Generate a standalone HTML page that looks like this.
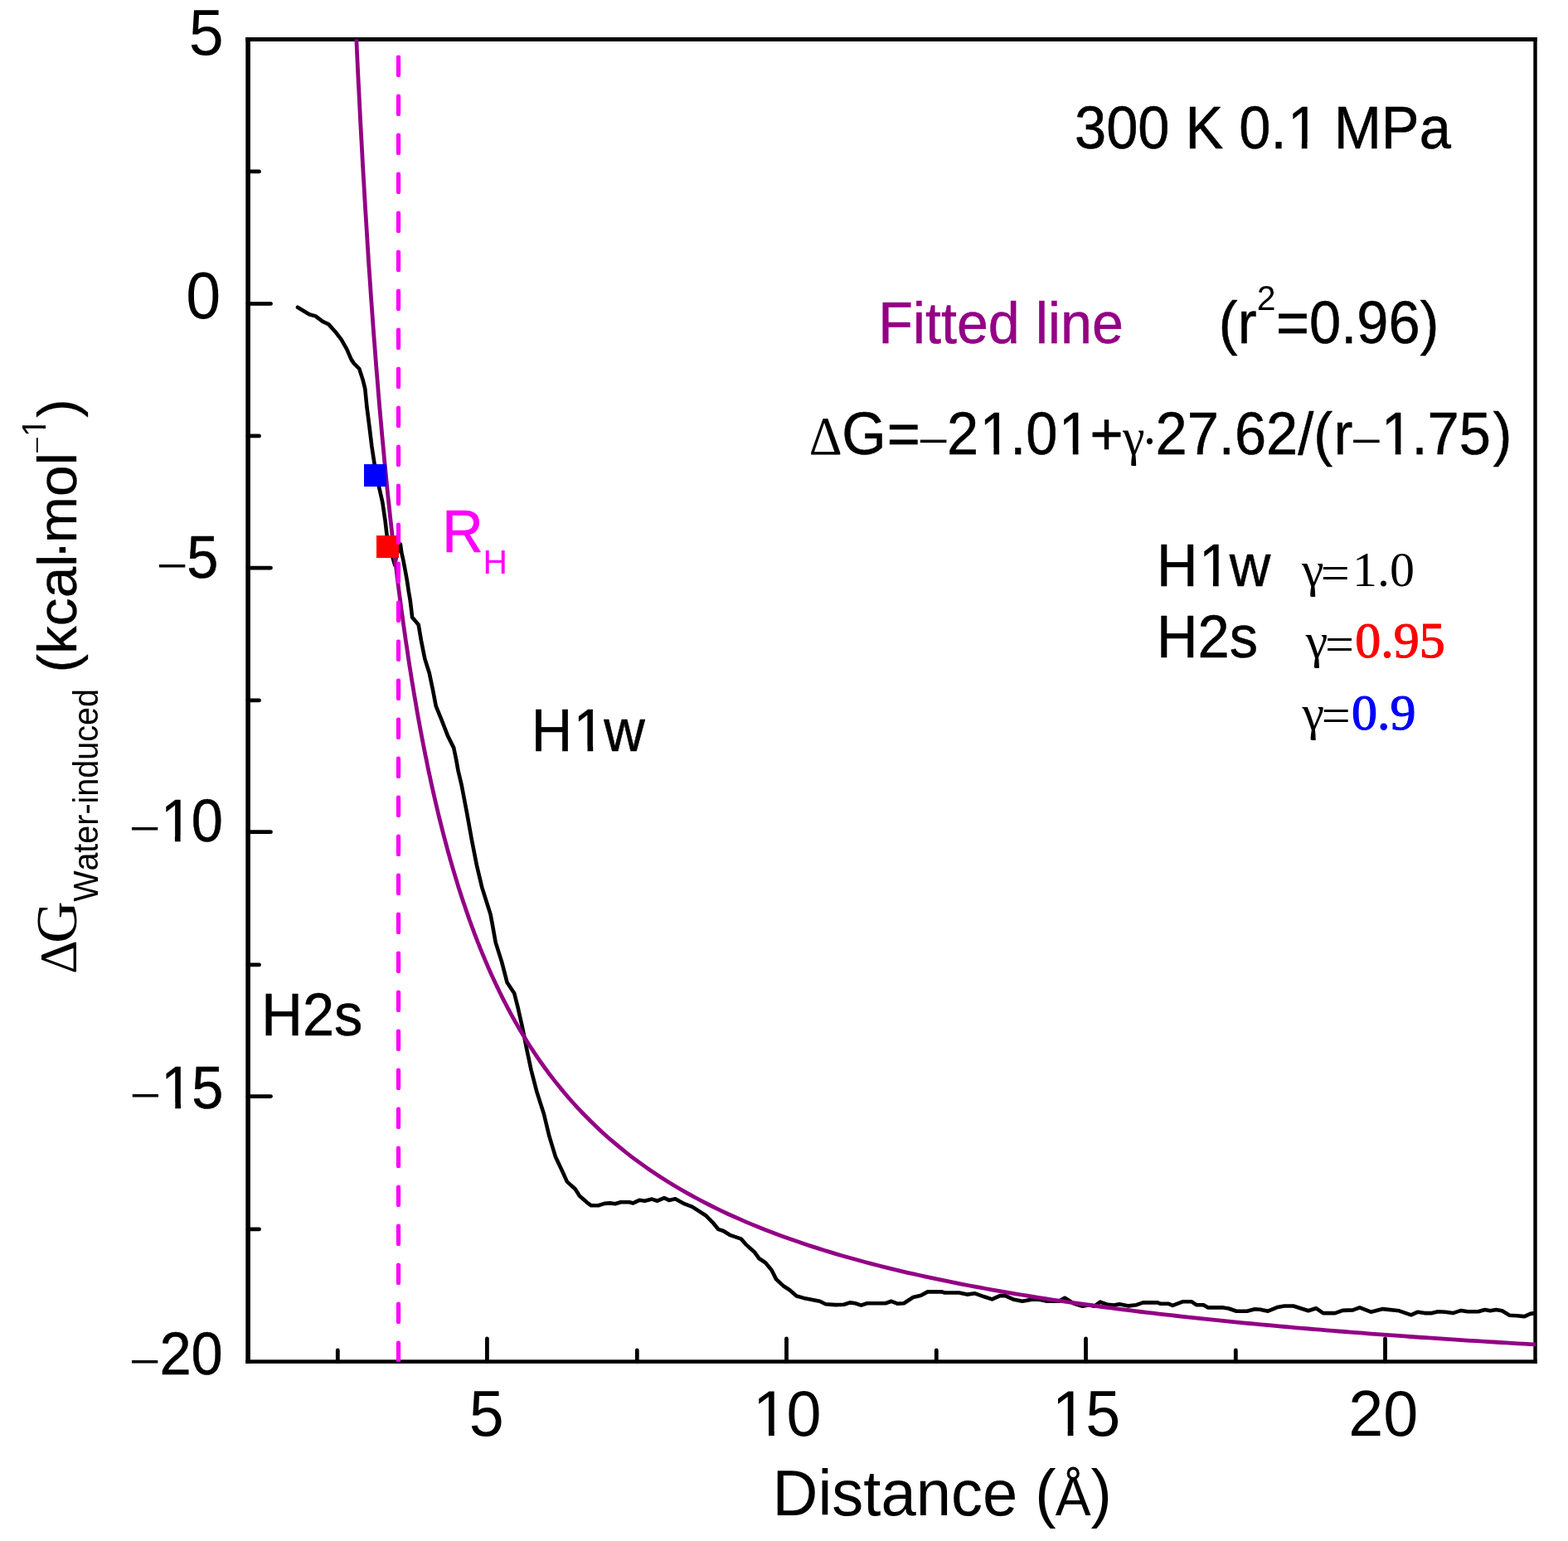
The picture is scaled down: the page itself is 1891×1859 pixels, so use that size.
<!DOCTYPE html>
<html lang="en"><head><meta charset="utf-8">
<title>Water-induced free energy vs distance</title>
<style>
html,body{margin:0;padding:0;background:#fff;}
body{width:1891px;height:1859px;overflow:hidden;}
svg{display:block;}
text{font-family:"Liberation Sans",Arial,Helvetica,sans-serif;font-kerning:none;white-space:pre;}
.se{font-family:"Liberation Serif","Times New Roman",Times,serif;}
.sb{font-family:"Liberation Serif","Times New Roman",Times,serif;font-weight:bold;}
</style></head><body>
<svg width="1891" height="1859" viewBox="0 0 1891 1859">
<rect width="1891" height="1859" fill="#fff"/>
<defs><clipPath id="pa"><rect x="299.0" y="47.4" width="1552.9" height="1595.4"/></clipPath><clipPath id="k1"><path clip-rule="evenodd" d="M-4000,-4000H4000V4000H-4000ZM198.15,-6.52H210.92V1.50H198.15ZM217.58,-6.52H229.82V1.50H217.58Z"/></clipPath><clipPath id="k2"><path clip-rule="evenodd" d="M-4000,-4000H4000V4000H-4000ZM198.55,-6.52H211.32V1.50H198.55ZM217.98,-6.52H230.22V1.50H217.98Z"/></clipPath><clipPath id="k3"><path clip-rule="evenodd" d="M-4000,-4000H4000V4000H-4000ZM913.05,-6.79H927.04V1.00H913.05ZM933.80,-6.79H947.20V1.00H933.80Z"/></clipPath><clipPath id="k4"><path clip-rule="evenodd" d="M-4000,-4000H4000V4000H-4000ZM1273.68,-6.79H1287.66V1.00H1273.68ZM1294.43,-6.79H1307.83V1.00H1294.43Z"/></clipPath><clipPath id="k5"><path clip-rule="evenodd" d="M-4000,-4000H4000V4000H-4000ZM1557.08,-6.52H1569.85V1.50H1557.08ZM1576.51,-6.52H1588.75V1.50H1576.51Z"/></clipPath><clipPath id="k6"><path clip-rule="evenodd" d="M-4000,-4000H4000V4000H-4000ZM1185.65,-6.52H1198.43V1.50H1185.65ZM1205.08,-6.52H1217.32V1.50H1205.08ZM1281.01,-6.52H1293.79V1.50H1281.01ZM1300.45,-6.52H1312.69V1.50H1300.45ZM1669.97,-6.52H1682.75V1.50H1669.97ZM1689.40,-6.52H1701.65V1.50H1689.40Z"/></clipPath><clipPath id="k7"><path clip-rule="evenodd" d="M-4000,-4000H4000V4000H-4000ZM1450.16,-6.53H1462.94V1.50H1450.16ZM1469.60,-6.53H1481.84V1.50H1469.60Z"/></clipPath><clipPath id="k8"><path clip-rule="evenodd" d="M-4000,-4000H4000V4000H-4000ZM695.76,-6.53H708.54V1.50H695.76ZM715.20,-6.53H727.44V1.50H715.20Z"/></clipPath><clipPath id="k9"><path clip-rule="evenodd" d="M-4000,-4000H4000V4000H-4000ZM-524.79,-42.13H-516.89V-36.86H-524.79ZM-513.19,-42.13H-505.60V-36.86H-513.19Z"/></clipPath></defs>
<g fill="#000" stroke="none">
<rect x="296.3" y="45.0" width="5.6" height="1599.9"/>
<rect x="296.3" y="45.0" width="1557.4" height="5.0"/>
<rect x="296.3" y="1640.3" width="1557.4" height="4.6"/>
<rect x="1849.3" y="45.0" width="4.4" height="1599.9"/>
</g>
<g fill="none" stroke="#000" stroke-width="4.8" stroke-linecap="round">
<line x1="299.0" y1="366.4" x2="326.5" y2="366.4"/>
<line x1="299.0" y1="685.1" x2="326.5" y2="685.1"/>
<line x1="299.0" y1="1003.7" x2="326.5" y2="1003.7"/>
<line x1="299.0" y1="1322.6" x2="326.5" y2="1322.6"/>
<line x1="299.0" y1="206.9" x2="312.5" y2="206.9"/>
<line x1="299.0" y1="525.9" x2="312.5" y2="525.9"/>
<line x1="299.0" y1="844.9" x2="312.5" y2="844.9"/>
<line x1="299.0" y1="1163.9" x2="312.5" y2="1163.9"/>
<line x1="299.0" y1="1482.9" x2="312.5" y2="1482.9"/>
<line x1="587.4" y1="1642.5" x2="587.4" y2="1615.0"/>
<line x1="948.5" y1="1642.5" x2="948.5" y2="1615.0"/>
<line x1="1309.5" y1="1642.5" x2="1309.5" y2="1615.0"/>
<line x1="1670.5" y1="1642.5" x2="1670.5" y2="1615.0"/>
<line x1="407.3" y1="1642.5" x2="407.3" y2="1629.0"/>
<line x1="768.3" y1="1642.5" x2="768.3" y2="1629.0"/>
<line x1="1129.3" y1="1642.5" x2="1129.3" y2="1629.0"/>
<line x1="1490.3" y1="1642.5" x2="1490.3" y2="1629.0"/>
</g>
<g clip-path="url(#pa)" fill="none" stroke-linejoin="round">
<path d="M359.0,370.7 L373.0,379.3 L380.6,381.4 L389.2,387.9 L396.2,391.1 L405.3,401.3 L411.8,409.9 L418.2,421.2 L423.6,433.6 L426.8,438.4 L433.3,444.9 L437.6,458.3 L440.3,469.1 L442.4,490.6 L445.7,516.4 L448.3,538.0 L451.6,559.8 L457.0,586.9 L461.3,606.0 L464.5,627.6 L466.6,646.0 L468.3,655.0 L470.8,664.0 L473.7,673.0 L476.2,681.5 L477.6,673.0 L479.3,666.5 L482.9,656.5 L484.2,666.2 L486.5,676.5 L488.7,688.1 L491.0,701.0 L492.9,713.9 L494.6,723.6 L495.8,733.3 L497.1,744.8 L500.5,748.6 L504.7,753.7 L508.0,773.0 L512.3,794.6 L517.7,811.8 L522.0,832.2 L525.7,851.6 L532.7,868.8 L540.2,888.1 L547.2,902.1 L549.9,915.0 L552.6,930.0 L556.6,946.9 L563.0,980.2 L569.0,1013.6 L574.9,1043.7 L581.3,1070.6 L586.7,1087.8 L591.5,1102.9 L593.8,1115.0 L597.7,1136.9 L605.2,1160.6 L611.6,1185.3 L620.2,1198.2 L624.6,1215.4 L629.9,1239.1 L635.3,1266.0 L640.5,1290.5 L647.3,1316.9 L655.9,1343.8 L662.4,1370.7 L669.9,1395.4 L677.5,1411.6 L683.9,1425.6 L693.6,1434.2 L699.0,1442.8 L707.6,1450.3 L713.0,1454.3 L721.6,1454.3 L729.1,1451.9 L735.6,1451.4 L742.0,1452.2 L748.5,1450.3 L759.2,1450.3 L763.5,1451.4 L771.1,1447.8 L777.5,1448.7 L786.3,1446.6 L792.8,1448.7 L801.0,1445.2 L806.9,1447.9 L814.4,1446.3 L825.2,1452.2 L834.9,1455.9 L851.0,1466.2 L859.6,1474.8 L866.1,1482.8 L872.5,1485.0 L880.1,1489.8 L894.0,1494.7 L899.4,1501.1 L910.2,1510.8 L915.6,1518.3 L923.1,1523.2 L930.6,1532.3 L936.0,1543.1 L944.6,1551.2 L952.1,1556.0 L960.7,1563.5 L969.3,1565.9 L988.6,1569.8 L995.7,1573.3 L1007.6,1574.1 L1017.9,1573.8 L1025.0,1571.4 L1031.4,1572.2 L1038.5,1574.6 L1045.7,1572.2 L1067.9,1572.2 L1075.0,1569.8 L1082.2,1572.7 L1090.1,1572.2 L1101.2,1565.0 L1110.7,1562.7 L1118.7,1558.4 L1136.1,1558.4 L1139.3,1559.5 L1156.7,1559.5 L1166.2,1561.6 L1175.8,1560.3 L1186.9,1564.3 L1196.4,1567.4 L1205.9,1563.1 L1212.3,1563.1 L1221.8,1567.4 L1232.9,1569.8 L1245.6,1567.4 L1254.8,1567.9 L1262.7,1569.8 L1277.0,1569.8 L1284.1,1565.8 L1294.4,1572.2 L1305.5,1575.8 L1313.5,1574.2 L1319.8,1575.8 L1326.9,1570.6 L1335.7,1573.8 L1343.6,1574.6 L1349.9,1573.3 L1361.1,1575.4 L1370.6,1574.2 L1378.5,1571.4 L1396.0,1571.4 L1399.1,1572.7 L1408.7,1572.7 L1414.2,1574.9 L1426.1,1570.3 L1437.2,1570.3 L1442.8,1574.2 L1451.5,1574.2 L1457.0,1577.4 L1475.3,1577.4 L1481.6,1578.5 L1491.2,1581.7 L1503.8,1581.7 L1513.4,1579.3 L1519.7,1579.8 L1529.2,1581.7 L1540.3,1577.1 L1549.0,1575.5 L1559.8,1575.5 L1577.8,1581.3 L1587.1,1578.2 L1595.7,1584.1 L1610.1,1584.1 L1619.1,1580.9 L1631.7,1580.4 L1639.8,1577.3 L1653.3,1582.7 L1667.7,1579.1 L1687.4,1581.3 L1701.8,1586.3 L1709.9,1582.7 L1718.0,1584.1 L1727.0,1584.1 L1734.2,1582.3 L1743.2,1582.7 L1752.2,1584.1 L1762.0,1580.9 L1770.1,1582.3 L1782.7,1582.3 L1790.8,1580.0 L1797.1,1581.3 L1804.3,1580.0 L1811.5,1581.3 L1820.5,1586.7 L1829.5,1587.2 L1838.5,1588.1 L1845.6,1584.9 L1851.0,1584.1" stroke="#000" stroke-width="4.6" stroke-linecap="round"/>
<path d="M427.5,-4.0 L429.0,28.6 L430.4,60.0 L431.8,90.2 L433.3,119.3 L434.7,147.4 L436.2,174.5 L437.6,200.7 L439.1,226.0 L440.5,250.5 L442.0,274.2 L443.4,297.1 L444.8,319.3 L446.3,340.8 L447.7,361.7 L449.2,381.9 L450.6,401.5 L452.1,420.6 L453.5,439.1 L455.0,457.1 L456.4,474.6 L457.8,491.6 L459.3,508.1 L460.7,524.2 L462.2,539.8 L463.6,555.1 L465.1,570.0 L466.5,584.4 L467.9,598.6 L469.4,612.3 L470.8,625.8 L472.3,638.9 L473.7,651.7 L475.2,664.1 L476.6,676.3 L478.1,688.3 L479.5,699.9 L480.9,711.3 L482.4,722.4 L483.8,733.3 L485.3,743.9 L486.7,754.3 L488.2,764.5 L489.6,774.5 L491.1,784.2 L492.5,793.8 L493.9,803.2 L495.4,812.3 L496.8,821.3 L498.3,830.1 L499.7,838.8 L501.2,847.2 L502.6,855.6 L504.0,863.7 L505.5,871.7 L506.9,879.5 L508.4,887.2 L509.8,894.8 L511.3,902.2 L512.7,909.5 L514.2,916.6 L515.6,923.7 L517.0,930.6 L518.5,937.3 L519.9,944.0 L521.4,950.5 L522.8,957.0 L524.3,963.3 L525.7,969.5 L527.2,975.7 L528.6,981.7 L530.0,987.6 L531.5,993.4 L532.9,999.1 L534.4,1004.8 L535.8,1010.3 L537.3,1015.8 L538.7,1021.2 L540.1,1026.5 L541.6,1031.7 L543.0,1036.8 L544.5,1041.9 L545.9,1046.9 L547.4,1051.8 L548.8,1056.6 L550.3,1061.4 L551.7,1066.1 L553.1,1070.7 L554.6,1075.2 L556.0,1079.7 L557.5,1084.2 L558.9,1088.5 L560.4,1092.8 L561.8,1097.1 L563.3,1101.3 L564.7,1105.4 L566.1,1109.5 L567.6,1113.5 L569.0,1117.5 L570.5,1121.4 L571.9,1125.3 L573.4,1129.1 L574.8,1132.8 L576.2,1136.6 L577.7,1140.2 L579.1,1143.8 L580.6,1147.4 L582.0,1151.0 L583.5,1154.4 L584.9,1157.9 L586.4,1161.3 L587.8,1164.6 L589.2,1168.0 L590.7,1171.2 L592.1,1174.5 L593.6,1177.7 L595.0,1180.8 L596.5,1183.9 L597.9,1187.0 L599.4,1190.1 L600.8,1193.1 L602.2,1196.1 L603.7,1199.0 L605.1,1201.9 L606.6,1204.8 L608.0,1207.6 L609.5,1210.5 L610.9,1213.2 L612.3,1216.0 L613.8,1218.7 L615.2,1221.4 L616.7,1224.1 L618.1,1226.7 L619.6,1229.3 L621.0,1231.9 L622.5,1234.4 L623.9,1236.9 L625.3,1239.4 L626.8,1241.9 L628.2,1244.3 L629.7,1246.7 L631.1,1249.1 L632.6,1251.5 L634.0,1253.8 L635.5,1256.2 L636.9,1258.5 L638.3,1260.7 L639.8,1263.0 L641.2,1265.2 L642.7,1267.4 L644.1,1269.6 L645.6,1271.7 L647.0,1273.9 L648.4,1276.0 L649.9,1278.1 L651.3,1280.2 L652.8,1282.2 L654.2,1284.3 L655.7,1286.3 L657.1,1288.3 L658.6,1290.3 L660.0,1292.2 L661.4,1294.2 L668.7,1303.6 L675.9,1312.6 L683.1,1321.2 L690.3,1329.5 L697.5,1337.4 L704.8,1345.0 L712.0,1352.3 L719.2,1359.3 L726.4,1366.0 L733.6,1372.5 L740.9,1378.7 L748.1,1384.7 L755.3,1390.5 L762.5,1396.1 L769.7,1401.4 L777.0,1406.6 L784.2,1411.7 L791.4,1416.5 L798.6,1421.2 L805.8,1425.8 L813.1,1430.2 L820.3,1434.5 L827.5,1438.6 L834.7,1442.6 L841.9,1446.5 L849.2,1450.3 L856.4,1454.0 L863.6,1457.6 L870.8,1461.1 L878.0,1464.5 L885.3,1467.7 L892.5,1470.9 L899.7,1474.1 L906.9,1477.1 L914.1,1480.0 L921.4,1482.9 L928.6,1485.7 L935.8,1488.5 L943.0,1491.2 L950.2,1493.8 L957.5,1496.3 L964.7,1498.8 L971.9,1501.2 L979.1,1503.6 L986.3,1505.9 L993.6,1508.2 L1000.8,1510.4 L1008.0,1512.6 L1015.2,1514.7 L1022.4,1516.7 L1029.7,1518.8 L1036.9,1520.8 L1044.1,1522.7 L1051.3,1524.6 L1058.5,1526.5 L1065.8,1528.3 L1073.0,1530.1 L1080.2,1531.8 L1087.4,1533.6 L1094.6,1535.3 L1101.9,1536.9 L1109.1,1538.5 L1116.3,1540.1 L1123.5,1541.7 L1130.7,1543.2 L1138.0,1544.7 L1145.2,1546.2 L1152.4,1547.7 L1159.6,1549.1 L1166.8,1550.5 L1174.1,1551.9 L1181.3,1553.2 L1188.5,1554.5 L1195.7,1555.8 L1202.9,1557.1 L1210.2,1558.4 L1217.4,1559.6 L1224.6,1560.8 L1231.8,1562.0 L1239.0,1563.2 L1246.3,1564.4 L1253.5,1565.5 L1260.7,1566.7 L1267.9,1567.8 L1275.1,1568.8 L1282.4,1569.9 L1289.6,1571.0 L1296.8,1572.0 L1304.0,1573.0 L1311.2,1574.0 L1318.5,1575.0 L1325.7,1576.0 L1332.9,1577.0 L1340.1,1577.9 L1347.3,1578.9 L1354.6,1579.8 L1361.8,1580.7 L1369.0,1581.6 L1376.2,1582.5 L1383.4,1583.4 L1390.7,1584.2 L1397.9,1585.1 L1405.1,1585.9 L1412.3,1586.7 L1419.5,1587.5 L1426.8,1588.3 L1434.0,1589.1 L1441.2,1589.9 L1448.4,1590.7 L1455.6,1591.4 L1462.9,1592.2 L1470.1,1592.9 L1477.3,1593.7 L1484.5,1594.4 L1491.7,1595.1 L1499.0,1595.8 L1506.2,1596.5 L1513.4,1597.2 L1520.6,1597.9 L1527.8,1598.5 L1535.1,1599.2 L1542.3,1599.8 L1549.5,1600.5 L1556.7,1601.1 L1563.9,1601.8 L1571.2,1602.4 L1578.4,1603.0 L1585.6,1603.6 L1592.8,1604.2 L1600.0,1604.8 L1607.3,1605.4 L1614.5,1606.0 L1621.7,1606.5 L1628.9,1607.1 L1636.1,1607.7 L1643.4,1608.2 L1650.6,1608.8 L1657.8,1609.3 L1665.0,1609.9 L1672.2,1610.4 L1679.5,1610.9 L1686.7,1611.4 L1693.9,1611.9 L1701.1,1612.5 L1708.3,1613.0 L1715.6,1613.5 L1722.8,1613.9 L1730.0,1614.4 L1737.2,1614.9 L1744.4,1615.4 L1751.7,1615.9 L1758.9,1616.3 L1766.1,1616.8 L1773.3,1617.3 L1780.5,1617.7 L1787.8,1618.2 L1795.0,1618.6 L1802.2,1619.0 L1809.4,1619.5 L1816.6,1619.9 L1823.9,1620.3 L1831.1,1620.8 L1838.3,1621.2 L1845.5,1621.6 L1852.7,1622.0" stroke="#930085" stroke-width="4.8" stroke-linecap="butt"/>
<rect x="439" y="560" width="27" height="27" fill="#0000ff" stroke="none"/>
<rect x="454" y="646" width="27" height="27" fill="#ff0000" stroke="none"/>
<line x1="480.5" y1="69.1" x2="480.5" y2="1660" stroke="#ff00ff" stroke-width="5.2" stroke-linecap="round" stroke-dasharray="21.3 25.7"/>
</g>
<text transform="translate(0,66.00) scale(1,1.04)" x="227.68" y="-0.00" font-size="75.5">5</text>
<text transform="translate(0,384.30) scale(1,1.045)" x="224.15" y="-0.00" font-size="75.5">0</text>
<text transform="translate(0,697.40) scale(1,1.045)"><tspan x="188.65" y="7.98" font-size="67.2638" class="se">−</tspan><tspan x="225.25" y="-0.00" font-size="68.6" stroke="#000" stroke-width="0.5" stroke-linejoin="round">5</tspan></text>
<text transform="translate(0,1015.00) scale(1,1.045)" clip-path="url(#k1)"><tspan x="155.65" y="7.41" font-size="67.2638" class="se">−</tspan><tspan x="193.97 230.75" y="-0.00" font-size="68.6" stroke="#000" stroke-width="0.5" stroke-linejoin="round">10</tspan></text>
<text transform="translate(0,1336.90) scale(1,1.045)" clip-path="url(#k2)"><tspan x="156.55" y="7.41" font-size="67.2638" class="se">−</tspan><tspan x="194.37 231.15" y="-0.00" font-size="68.6" stroke="#000" stroke-width="0.5" stroke-linejoin="round">15</tspan></text>
<text transform="translate(0,1657.80) scale(1,1.045)"><tspan x="155.65" y="7.41" font-size="67.2638" class="se">−</tspan><tspan x="192.40" y="-0.00" font-size="68.6" stroke="#000" stroke-width="0.5" stroke-linejoin="round">20</tspan></text>
<text transform="translate(0,1731.80) scale(1,1.04)" x="565.88" y="-0.00" font-size="75.5">5</text>
<text transform="translate(0,1731.80) scale(1,1.04)" clip-path="url(#k3)" x="908.10 948.58" y="-0.00" font-size="75.5">10</text>
<text transform="translate(0,1731.80) scale(1,1.04)" clip-path="url(#k4)" x="1268.72 1309.20" y="-0.00" font-size="75.5">15</text>
<text transform="translate(0,1731.80) scale(1,1.04)" x="1626.20" y="-0.00" font-size="75.5">20</text>
<text transform="translate(0,1827.80) scale(1,1.025)"><tspan x="931.57 986.45 1003.34 1041.34 1062.45 1104.72 1146.99 1184.99 1227.25 1248.19" y="-0.00" font-size="76">Distance (</tspan><tspan x="1272.87" y="-0.00" font-size="64.2">Å</tspan><tspan x="1315.45" y="-0.00" font-size="76">)</tspan></text>
<text transform="translate(0,178.80) scale(1,1.045)" clip-path="url(#k5)" x="1295.99 1334.14 1372.29 1410.44 1429.50 1475.26 1494.32 1532.47 1552.90 1589.68 1608.74 1665.88 1711.64" y="-0.00" font-size="68.6" stroke="#000" stroke-width="0.5" stroke-linejoin="round">300 K 0.1 MPa</text>
<text transform="translate(0,414.40) scale(1,1.02)" x="1059.21" y="-0.00" font-size="68.2" fill="#930085" stroke="#930085" stroke-width="0.5" stroke-linejoin="round">Fitted line</text>
<text transform="translate(0,413.80) scale(1,1.045)"><tspan x="1469.85" y="-0.00" font-size="68.6" stroke="#000" stroke-width="0.5" stroke-linejoin="round">(r</tspan><tspan x="1515.84" y="-38.56" font-size="41">2</tspan><tspan x="1539.00" y="-0.00" font-size="68.6" stroke="#000" stroke-width="0.5" stroke-linejoin="round">=0.96)</tspan></text>
<text transform="translate(0,547.80) scale(1,1.045)" clip-path="url(#k6)"><tspan x="975.64" y="-0.00" font-size="62" class="se">Δ</tspan><tspan x="1015.15 1069.75" y="-0.00" font-size="68.6" stroke="#000" stroke-width="0.5" stroke-linejoin="round">G=</tspan><tspan x="1106.22" y="8.19" font-size="67.9085" class="se">−</tspan><tspan x="1141.95 1181.47 1218.25 1237.31 1276.84 1314.55" y="-0.00" font-size="68.6" stroke="#000" stroke-width="0.5" stroke-linejoin="round">21.01+</tspan><tspan x="1354.09 1376.55" y="-0.00 4.50" font-size="60" class="se">γ·</tspan><tspan x="1393.55 1431.70 1469.85 1488.91 1527.07 1565.22 1584.28 1608.44" y="-0.00" font-size="68.6" stroke="#000" stroke-width="0.5" stroke-linejoin="round">27.62/(r</tspan><tspan x="1628.42" y="8.19" font-size="67.9085" class="se">−</tspan><tspan x="1665.79 1702.57 1721.63 1759.79 1800.60" y="-0.00" font-size="68.6" stroke="#000" stroke-width="0.5" stroke-linejoin="round">1.75)</tspan></text>
<text transform="translate(0,707.20) scale(1,1.04)" clip-path="url(#k7)" x="1395.07 1445.99 1482.77" y="-0.00" font-size="68.6" stroke="#000" stroke-width="0.5" stroke-linejoin="round">H1w</text>
<text transform="translate(0,707.20)"><tspan x="1570.09" y="-0.00" font-size="60" class="se">γ</tspan><tspan x="1592.71" y="4.60" font-size="62" class="se">=</tspan><tspan x="1631.00" y="-0.00" font-size="60" class="se">1.0</tspan></text>
<text transform="translate(0,792.90) scale(1,1.04)" x="1395.07" y="-0.00" font-size="68.6" stroke="#000" stroke-width="0.5" stroke-linejoin="round">H2s</text>
<text transform="translate(0,792.90)"><tspan x="1574.69" y="-0.00" font-size="60" class="se">γ</tspan><tspan x="1597.91" y="4.60" font-size="62" class="se">=</tspan><tspan x="1634.14" y="-0.00" font-size="62" class="se" fill="#ff0000" stroke="#ff0000" stroke-width="1.2" stroke-linejoin="round">0.95</tspan></text>
<text transform="translate(0,879.60)"><tspan x="1570.49" y="-0.00" font-size="60" class="se">γ</tspan><tspan x="1593.71" y="4.60" font-size="62" class="se">=</tspan><tspan x="1629.94" y="-0.00" font-size="62" class="se" fill="#0000ff" stroke="#0000ff" stroke-width="1.2" stroke-linejoin="round">0.9</tspan></text>
<text transform="translate(0,665.50) scale(1,1.045)" x="533.17" y="-0.00" font-size="68.6" fill="#ff00ff" stroke="#ff00ff" stroke-width="0.5" stroke-linejoin="round">R</text>
<text transform="translate(0,691.80) scale(1,0.99)" x="582.55" y="-0.00" font-size="40.8" fill="#ff00ff">H</text>
<text transform="translate(0,906.30) scale(1,1.04)" clip-path="url(#k8)" x="640.67 691.59 728.37" y="-0.00" font-size="68.6" stroke="#000" stroke-width="0.5" stroke-linejoin="round">H1w</text>
<text transform="translate(0,1249.00) scale(1,1.04)" x="315.37" y="-0.00" font-size="68.6" stroke="#000" stroke-width="0.5" stroke-linejoin="round">H2s</text>
<text transform="translate(92.00,0) rotate(-90)"><tspan x="-1175.11" y="-0.00" font-size="63.3" class="se">Δ</tspan><tspan x="-1137.87" y="-0.00" font-size="70" class="se">G</tspan></text>
<text transform="translate(118.00,0) rotate(-90) scale(1,1.06)" x="-1087.87" y="-0.00" font-size="39.5">Water-induced</text>
<text transform="translate(92.00,0) rotate(-90) scale(1,0.98)" clip-path="url(#k9)"><tspan x="-811.49 -788.98 -755.18 -721.38 -683.78 -674.42 -655.29 -598.98 -561.38" y="-0.00 -0.00 -0.00 -0.00 -0.00 2.54 -0.00 -0.00 -0.00" font-size="67.6" stroke="#000" stroke-width="0.3" stroke-linejoin="round">(kcal·mol</tspan><tspan x="-547.69" y="-35.33" font-size="38.0374" class="se">−</tspan><tspan x="-527.10" y="-37.86" font-size="40.8">1</tspan><tspan x="-503.80" y="-0.00" font-size="67.6" stroke="#000" stroke-width="0.3" stroke-linejoin="round">)</tspan></text>
</svg>
</body></html>
